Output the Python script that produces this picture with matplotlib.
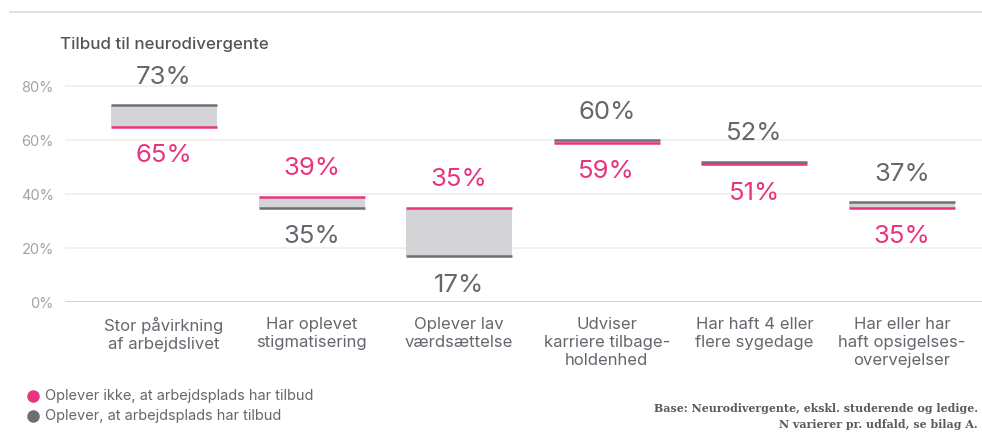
import matplotlib
matplotlib.use("Agg")
import matplotlib.pyplot as plt
from matplotlib.lines import Line2D

plt.rcParams['font.family'] = ['Inter', 'DejaVu Sans']

# Data
categories = [
    "Stor påvirkning\naf arbejdslivet",
    "Har oplevet\nstigmatisering",
    "Oplever lav\nværdsættelse",
    "Udviser\nkarriere tilbage-\nholdenhed",
    "Har haft 4 eller\nflere sygedage",
    "Har eller har\nhaft opsigelses-\novervejelser",
]
ikke_tilbud = [65, 39, 35, 59, 51, 35]   # Oplever ikke, at arbejdsplads har tilbud
har_tilbud = [73, 35, 17, 60, 52, 37]    # Oplever, at arbejdsplads har tilbud
yticks = [0, 20, 40, 60, 80]
ytick_labels = ["0%", "20%", "40%", "60%", "80%"]

PINK = "#e8347f"
GREY_LINE = "#6e6e76"
GREY_TEXT = "#66666e"
BOX = "#d4d4d6"
TICK = "#a3a3a3"

W, H = 982, 433
fig = plt.figure(figsize=(W / 100, H / 100), dpi=100)

# axes placement in pixels
left_px, right_px = 65, 982
bottom_px, top_px = 302, 72.5
ax = fig.add_axes([left_px / W, (H - bottom_px) / H,
                   (right_px - left_px) / W, (bottom_px - top_px) / H])

step = 147.6
first_center = 164
ax.set_xlim((left_px - first_center) / step, (right_px - first_center) / step)
ax.set_ylim(0, 85)

for s in ax.spines.values():
    s.set_visible(False)
ax.set_yticks(yticks)
ax.set_yticklabels(ytick_labels, color=TICK, fontsize=10.5)
ax.tick_params(axis='y', length=0, pad=8)
for y in yticks:
    ax.axhline(y, color="#cfcfcf" if y == 0 else "#f1f0ec", lw=1.3, zorder=0)

ax.set_xticks(range(len(categories)))
ax.set_xticklabels(categories, color=GREY_TEXT, fontsize=12, linespacing=1.25)
ax.tick_params(axis='x', length=0, pad=11)

bw = 0.718
for i, (p, g) in enumerate(zip(ikke_tilbud, har_tilbud)):
    lo, hi = min(p, g), max(p, g)
    ax.bar(i, hi - lo, bottom=lo, width=bw, color=BOX, zorder=2)
    ax.hlines(p, i - bw / 2, i + bw / 2, color=PINK, lw=1.8, zorder=3)
    ax.hlines(g, i - bw / 2, i + bw / 2, color=GREY_LINE, lw=1.8, zorder=3)
    for v, col in ((p, PINK), (g, GREY_TEXT)):
        other = g if col == PINK else p
        up = v > other or (v == other and col == GREY_TEXT)
        ax.annotate(f"{v}%", (i, v), xytext=(0, 20 if up else -21),
                    textcoords="offset points", ha="center", va="center",
                    color=col, fontsize=18.5, annotation_clip=False)

# header rule and title
fig.add_artist(Line2D([10 / W, 1], [1 - 12 / H] * 2, color="#dcdcdc", lw=1.2))
fig.text(60 / W, 1 - 45 / H, "Tilbud til neurodivergente", color="#50555c",
         fontsize=12.2, fontweight="medium", va="center", ha="left")

# legend
for k, (lab, col) in enumerate((("Oplever ikke, at arbejdsplads har tilbud", PINK),
                                 ("Oplever, at arbejdsplads har tilbud", GREY_LINE))):
    yy = 1 - (396 + 20 * k) / H
    fig.add_artist(Line2D([33 / W], [yy], marker="o", markersize=8,
                          color=col, linestyle="none"))
    fig.text(45 / W, yy, lab, color=GREY_TEXT, fontsize=10.5, va="center", ha="left")

# source note
for txt, ypx in (("Base: Neurodivergente, ekskl. studerende og ledige.", 408),
                 ("N varierer pr. udfald, se bilag A.", 425)):
    fig.text(978 / W, 1 - ypx / H, txt, family="DejaVu Serif", fontsize=7.9,
             fontweight="bold", color="#5a5a60", ha="right", va="center")

fig.savefig("out.png", dpi=100, facecolor="white")
